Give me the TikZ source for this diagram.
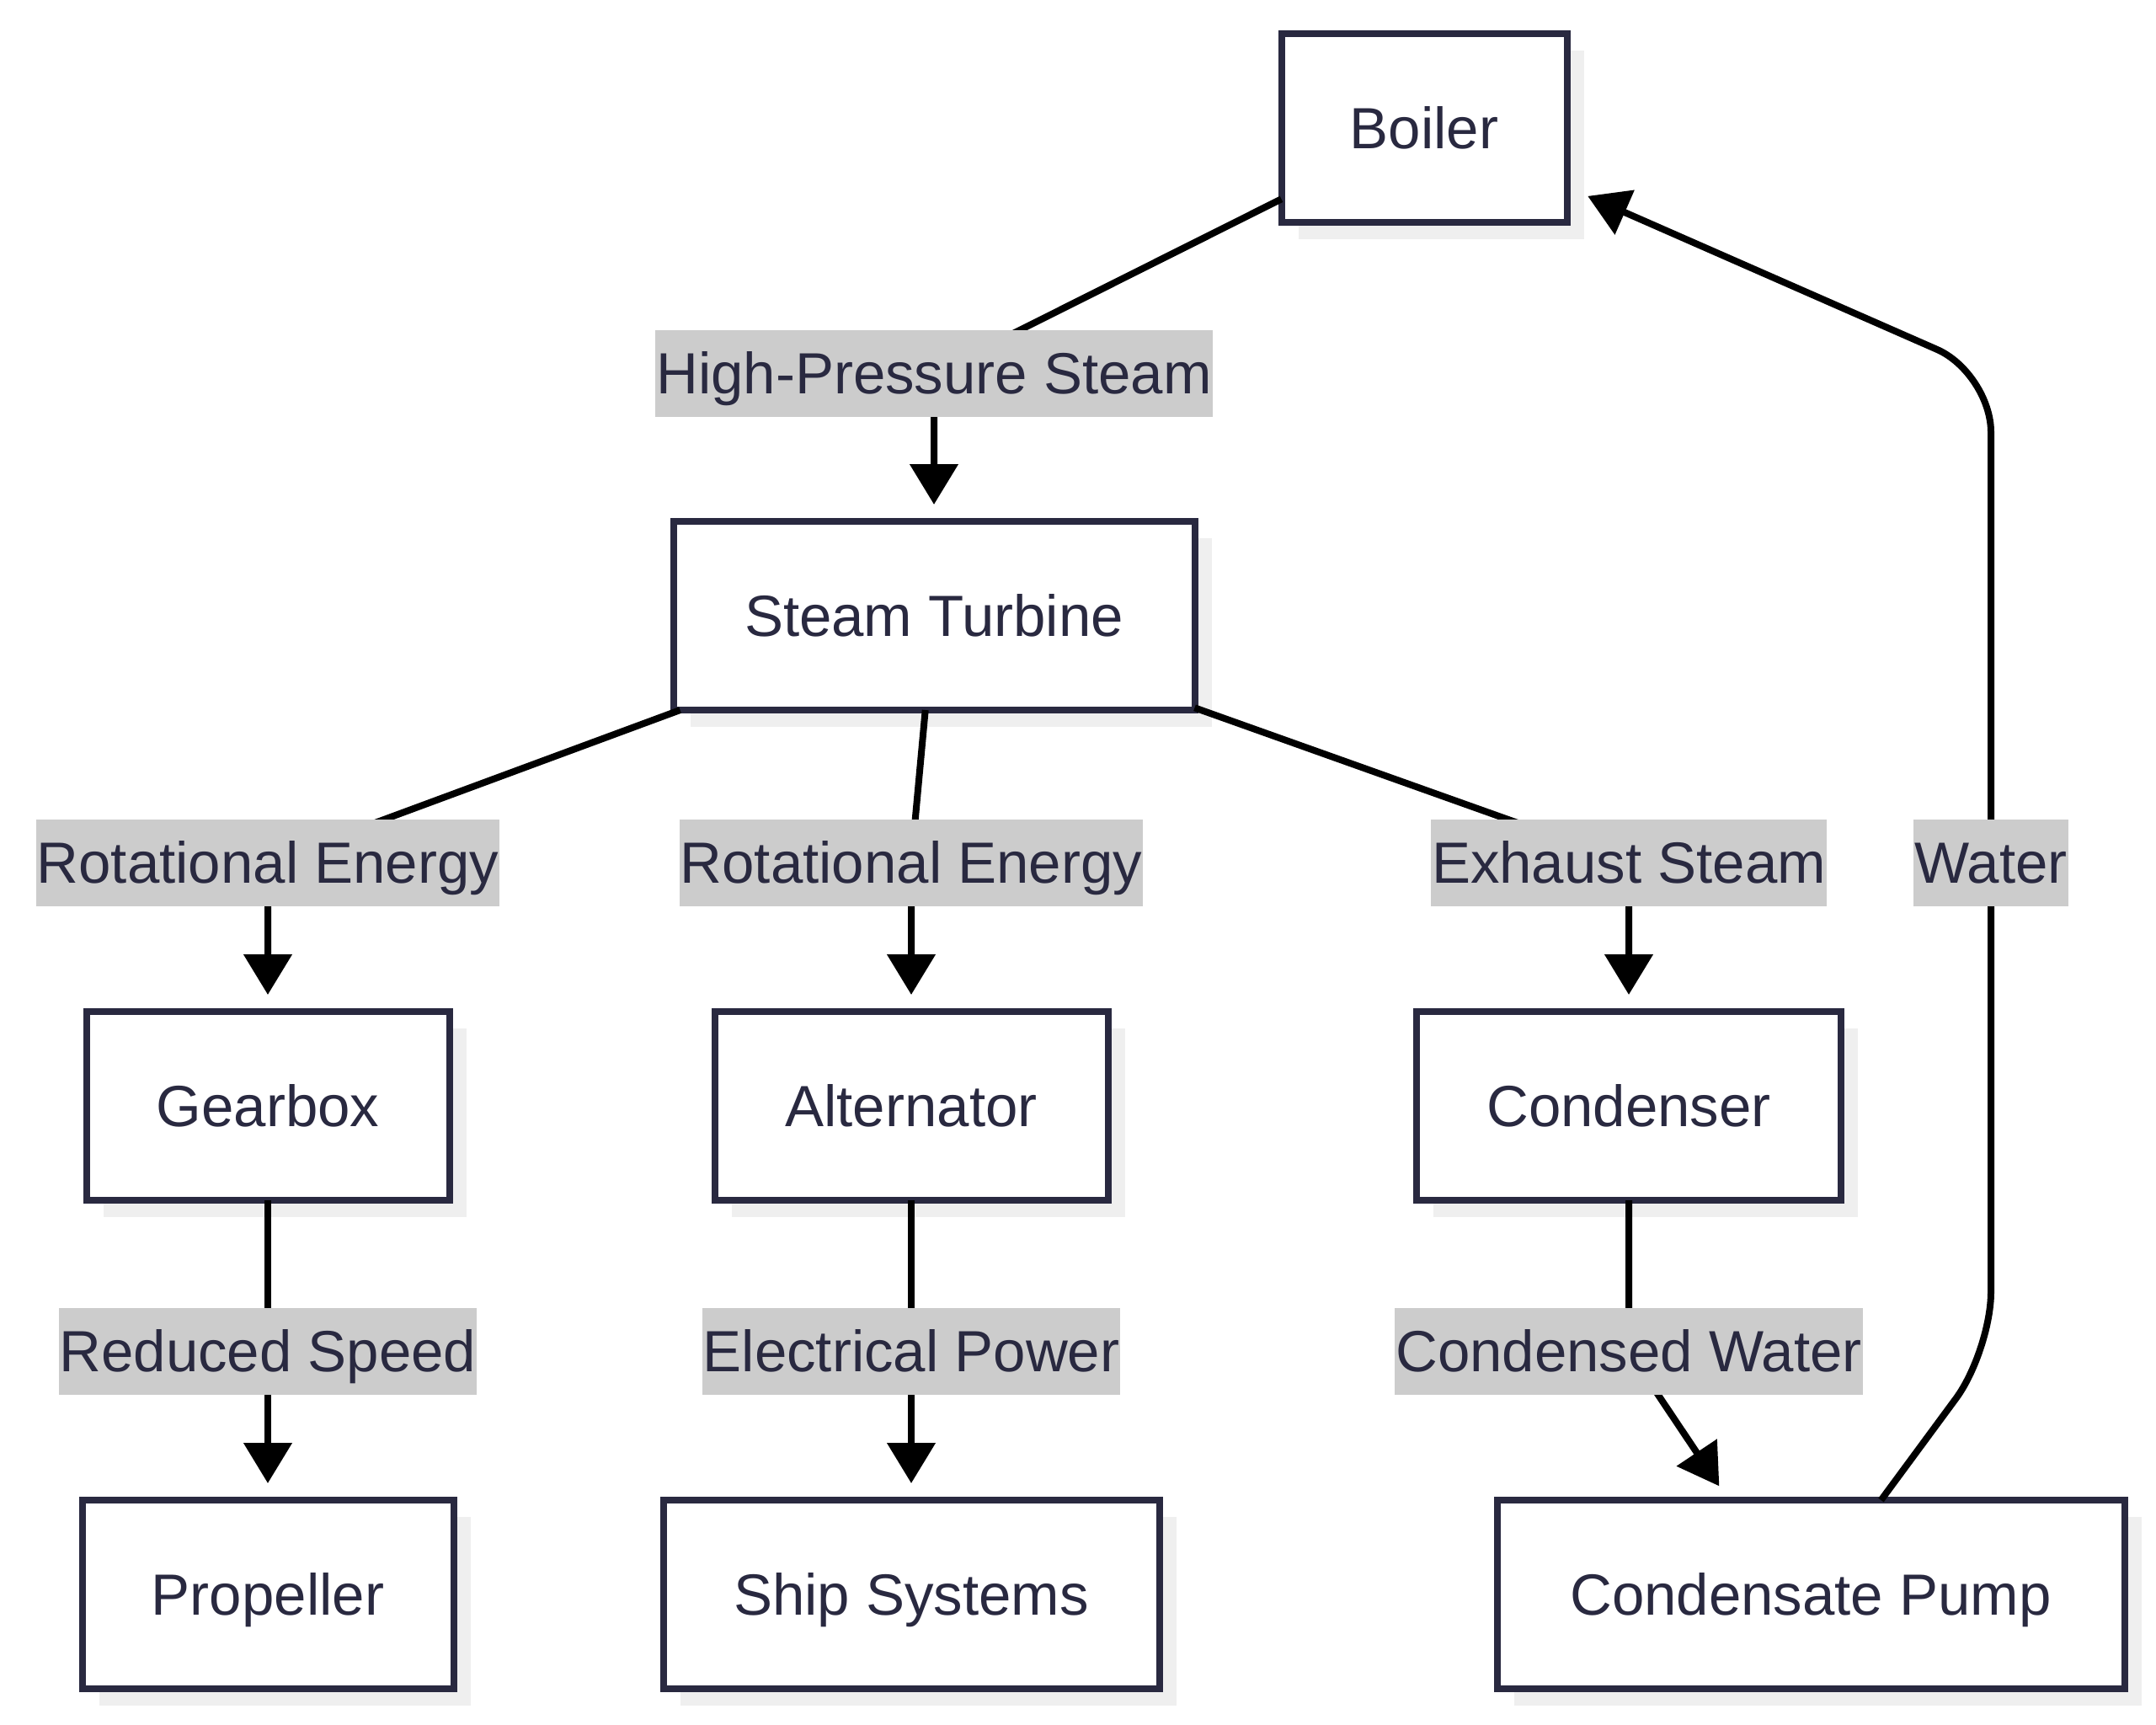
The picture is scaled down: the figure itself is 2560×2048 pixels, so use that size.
\documentclass[tikz,border=0pt]{standalone}
\usepackage{fontspec}
\setmainfont{Liberation Sans}
\usetikzlibrary{arrows.meta,calc,shadows}
\definecolor{ink}{RGB}{41,41,64}
\definecolor{lblgray}{HTML}{CCCCCC}
\definecolor{shade}{HTML}{EFEFEF}
\pgfdeclarelayer{labellayer}
\pgfsetlayers{main,labellayer}
\begin{document}
\begin{tikzpicture}[x=1pt,y=-1pt,
  every node/.style={font=\fontsize{69}{83}\selectfont, text=ink, inner sep=0pt, text height=62pt, text depth=14pt},
  box/.style={draw=ink, line width=8pt, fill=white, minimum height=224pt, outer sep=0pt,
    drop shadow={shadow xshift=20pt, shadow yshift=-20pt, opacity=1, fill=shade}},
  lbl/.style={fill=lblgray, minimum height=103pt, inner xsep=1pt},
  edge/.style={draw=black, line width=8pt, -{Triangle[length=48pt,width=56pt]}, shorten >=20pt}
]
\useasboundingbox (0,0) rectangle (2560,2048);
% nodes
\node[box, minimum width=339pt] (boiler) at (1691,152) {Boiler};
\node[box, minimum width=619pt] (turb) at (1109,731) {Steam Turbine};
\node[box, minimum width=431pt] (gear) at (318,1313) {Gearbox};
\node[box, minimum width=467pt] (alt) at (1082,1313) {Alternator};
\node[box, minimum width=504pt] (cond) at (1934,1313) {Condenser};
\node[box, minimum width=441pt] (prop) at (318,1893) {Propeller};
\node[box, minimum width=589pt] (ship) at (1082,1893) {Ship Systems};
\node[box, minimum width=745pt] (pump) at (2150,1893) {Condensate Pump};
% labels
\begin{pgfonlayer}{labellayer}
\node[lbl] (hps) at (1109,443) {High-Pressure Steam};
\node[lbl] (re1) at (318,1024) {Rotational Energy};
\node[lbl] (re2) at (1082,1024) {Rotational Energy};
\node[lbl] (ex) at (1934,1024) {Exhaust Steam};
\node[lbl] (water) at (2364,1024) {Water};
\node[lbl] (rs) at (318,1604) {Reduced Speed};
\node[lbl] (ep) at (1082,1604) {Electrical Power};
\node[lbl] (cw) at (1934,1604) {Condensed Water};
\end{pgfonlayer}
% edges
\draw[edge] (boiler) -- (hps.center) -- (turb);
\draw[edge] (turb) -- (re1.center) -- (gear);
\draw[edge] (turb) -- (re2.center) -- (alt);
\draw[edge] (turb) -- (ex.center) -- (cond);
\draw[edge] (gear) -- (prop);
\draw[edge] (alt) -- (ship);
\coordinate (pumpin) at ($(pump.north west)+(275,0)$);
\draw[edge, rounded corners=50pt] (cond) -- (cw.center) -- (pumpin);
\coordinate (pumpout) at ($(pump.north west)+(456,0)$);
\coordinate (boilerin) at ($(boiler.south east)+(0,-42)$);
\draw[edge, rounded corners=70pt, shorten >=27pt] (pumpout) -- (water |- cw) -- (water.center) -- (water |- hps) -- (boilerin);
\end{tikzpicture}
\end{document}
